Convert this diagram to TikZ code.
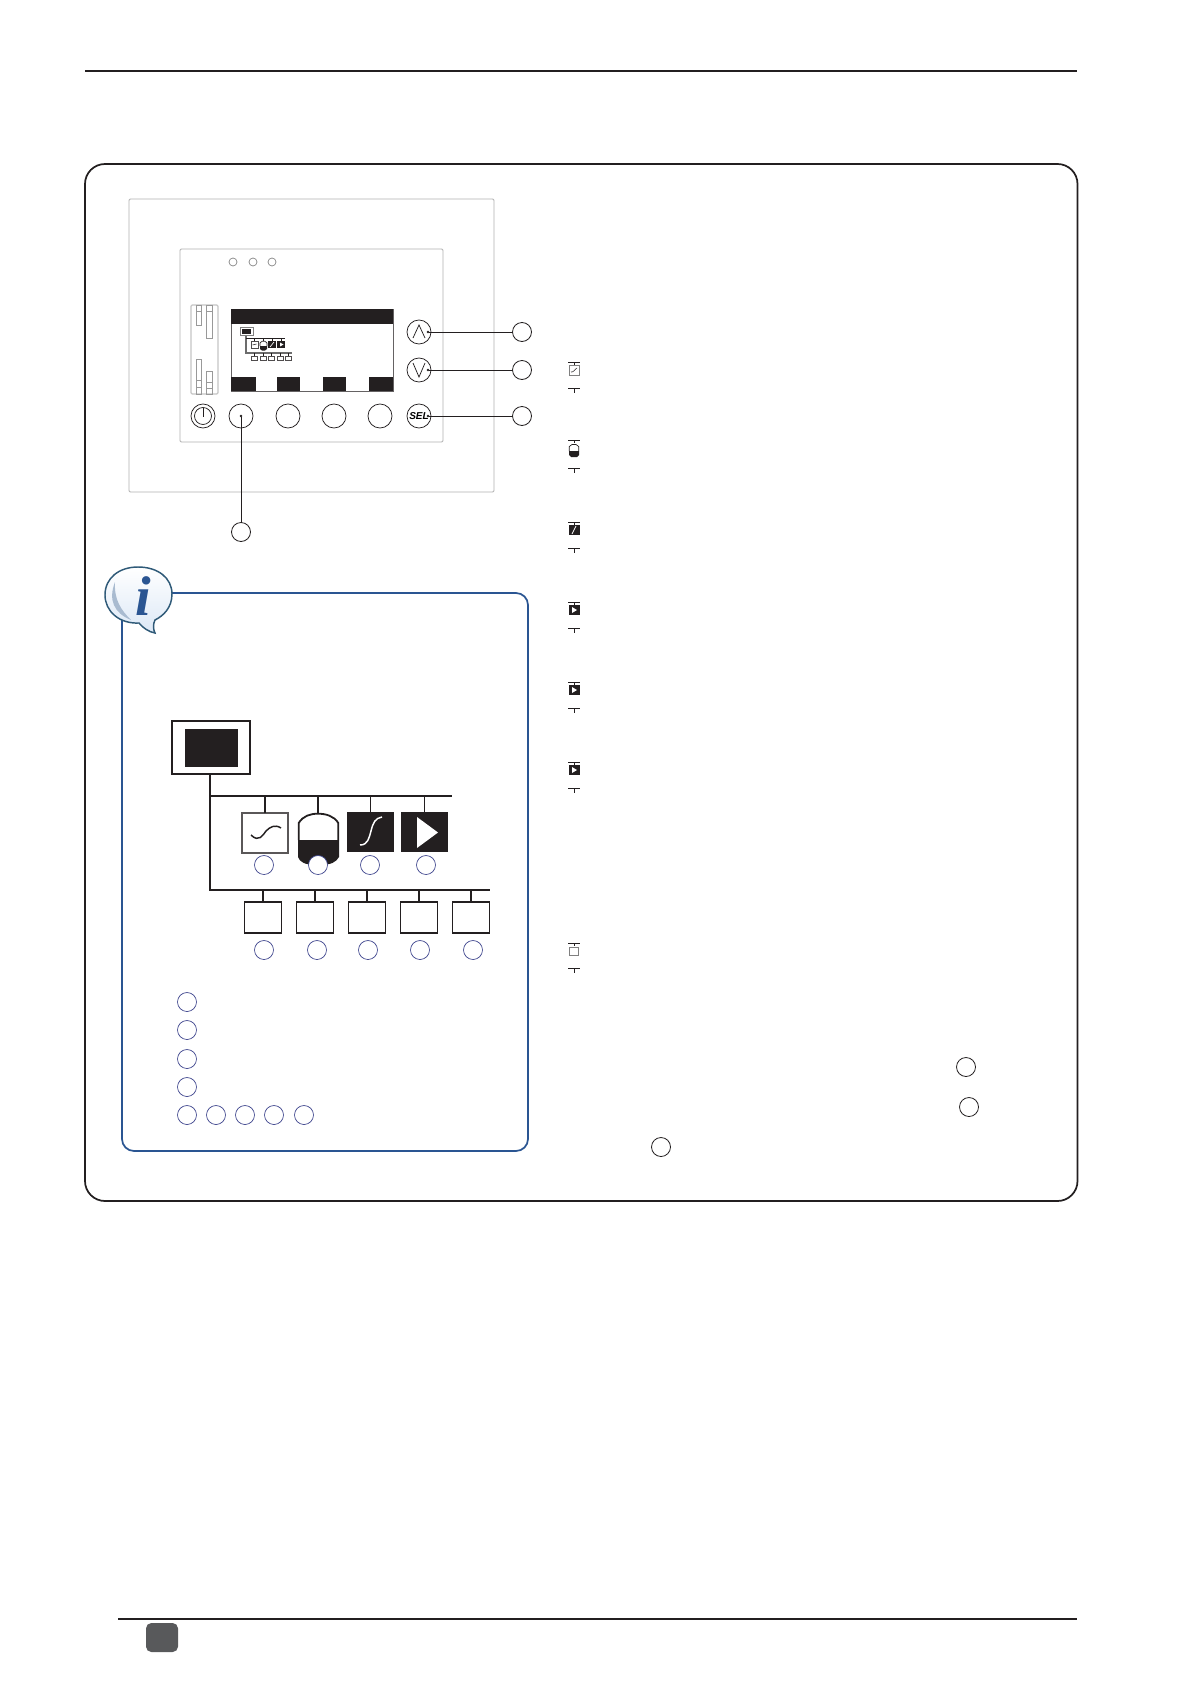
\documentclass[tikz,border=0pt]{standalone}
\usepackage{fontspec}
\setmainfont{Liberation Serif}
\setsansfont{Liberation Sans}
\definecolor{ink}{HTML}{231F20}
\definecolor{panelgray}{HTML}{B0B0B0}
\definecolor{infoblue}{HTML}{2A5592}
\definecolor{navy}{HTML}{39408A}
\definecolor{footgray}{HTML}{58595B}
\definecolor{bubbleline}{HTML}{2F5A78}
\definecolor{bubblefill}{HTML}{DCE8F6}
\definecolor{bubbleedge}{HTML}{A9BBD0}
\tikzset{
  wh/.style 2 args={minimum width=#1*0.75pt, minimum height=#2*0.75pt, inner sep=0pt, outer sep=0pt},
  pxcirc/.style={circle, inner sep=0pt, outer sep=0pt, minimum size=#1*0.75pt},
  panelbox/.style={draw=panelgray, line width=0.65pt, rounded corners=1pt, fill=white},
  solidblack/.style={fill=ink, draw=none},
  button/.style={pxcirc=24, draw=ink, line width=0.55pt, fill=white},
  callout/.style={pxcirc=19, draw=ink, line width=0.6pt, fill=white},
  bluecall/.style={pxcirc=19, draw=navy, line width=0.5pt, fill=white},
  leader/.style={draw=ink, line width=0.75pt},
  leddot/.style={pxcirc=8, draw=gray, line width=0.5pt},
  tip/.style={pxcirc=2.6, fill=ink},
  netline/.style={draw=ink, line width=1.35pt},
  netbox/.style={draw=ink, line width=1.35pt, fill=white},
  minigray/.style={draw=gray!85!black, line width=0.8pt},
  miniline/.style={draw=ink, line width=0.55pt},
  minibox/.style={draw=ink!80, line width=0.5pt, fill=white},
  tickline/.style={draw=ink, line width=0.55pt},
}
\begin{document}
\begin{tikzpicture}[x=0.75pt,y=-0.75pt]
\useasboundingbox (0,0) rectangle (1190,1684);
\fill[white] (0,0) rectangle (1190,1684);

% page rules and frame
\coordinate (topL) at (85,71); \coordinate (topR) at (1077,71);
\draw[draw=ink, line width=1.35pt] (topL) -- (topR);
\draw[draw=ink, line width=1.3pt, rounded corners=15pt] (85,164) rectangle (1077.5,1201);
\coordinate (footL) at (118,1619); \coordinate (footR) at (1077,1619);
\draw[draw=ink, line width=1.35pt] (footL) -- (footR);
\fill[footgray, rounded corners=4pt] (146,1623) rectangle (178,1652);

% control panel
\draw[panelbox] (129,199) rectangle (494,492);
\draw[panelbox] (180,249) rectangle (443,442);
\node[leddot] (led1) at (233,262) {};
\node[leddot] (led2) at (253,262) {};
\node[leddot] (led3) at (272,262) {};

% slider strip
\draw[draw=gray!45, line width=0.9pt, rounded corners=1pt] (191,305) rectangle (218,394);
\begin{scope}[draw=gray!80, line width=0.55pt]
  \draw (196,305) rectangle (201,325); \draw (196,311) -- (201,311);
  \draw (206,305) rectangle (212,338); \draw (206,311) -- (212,311);
  \draw (196,359) rectangle (201,394); \draw (196,380) -- (201,380); \draw (196,387) -- (201,387);
  \draw (206,371) rectangle (212,394); \draw (206,382) -- (212,382); \draw (206,388) -- (212,388);
\end{scope}

% display
\draw[draw=ink!70, line width=0.4pt, fill=white] (231,309) rectangle (393,391);
\fill[ink] (231,309) rectangle (393,324);
\fill[ink] (231,377) rectangle (256,391);
\fill[ink] (277,377) rectangle (300,391);
\fill[ink] (323,377) rectangle (346,391);
\fill[ink] (369,377) rectangle (393,391);
% mini network on the display
\draw[minigray] (246,335) -- (246,353) -- (292,353);
\draw[miniline] (246,338) -- (285,338);
\draw[miniline] (254,338) -- (254,341) (263,338) -- (263,341) (272,338) -- (272,341) (281,338) -- (281,341);
\draw[draw=gray, line width=0.7pt, fill=white] (240,327) rectangle (253,335);
\fill[ink] (242,328.5) rectangle (251,333.5);
\draw[minibox] (251,341) rectangle (258,348);
\draw[ink, line width=0.4pt] (252.5,345) .. controls (254,343) and (255,346) .. (256.5,344);
\fill[ink] (260,346) -- (267,346) -- (267,349) -- (265,350.5) -- (262,350.5) -- (260,349) -- cycle;
\draw[ink, line width=0.5pt] (260,346) -- (260,343) -- (262,341.3) -- (265,341.3) -- (267,343) -- (267,346);
\fill[ink] (268,341) rectangle (276,348);
\draw[white, line width=0.5pt] (270,347) -- (274,342);
\fill[ink] (277,341) rectangle (285,348);
\fill[white] (280,342.5) -- (283.5,344.5) -- (280,346.5) -- cycle;
\foreach \mx in {254,263,271,280,288} {
  \draw[miniline] (\mx,353) -- (\mx,356);
  \draw[minibox] ({\mx-3},356) rectangle ({\mx+3},360);
}

% buttons
\node[button] (power) at (203,416) {};
\node[pxcirc=17, draw=ink, line width=0.55pt] (powerin) at (203,416) {};
\coordinate (powerT) at (203,408); \coordinate (powerB) at (203,417);
\draw[draw=ink, line width=0.55pt] (powerT) -- (powerB);
\node[button] (soft1) at (241,416) {};
\node[button] (soft2) at (288,416) {};
\node[button] (soft3) at (334,416) {};
\node[button] (soft4) at (380,416) {};
\node[button, font=\sffamily\bfseries\itshape\fontsize{7.5}{8}\selectfont] (sel) at (419,416) {SEL};
\node[button] (up) at (419,332) {};
\node[button] (down) at (419,370) {};
\draw[draw=ink, line width=0.55pt] (413,338) -- (419,325) -- (425,338);
\draw[draw=ink, line width=0.55pt] (413,363) -- (419,377) -- (425,363);

% callouts
\node[callout] (cUp) at (522,332) {};
\node[callout] (cDown) at (522,370) {};
\node[callout] (cSel) at (522,416) {};
\node[callout] (cSoft) at (241,532) {};
\node[tip] (tUp) at (428,332) {};
\node[tip] (tDown) at (428,370) {};
\node[tip] (tSel) at (428,416) {};
\node[tip] (tSoft) at (241,416) {};
\draw[leader] (tUp) -- (cUp);
\draw[leader] (tDown) -- (cDown);
\draw[leader] (tSel) -- (cSel);
\draw[leader] (tSoft) -- (cSoft);

% information box
\draw[draw=infoblue, line width=1.3pt, rounded corners=9pt] (122,593) rectangle (528,1151);
\shade[top color=white, bottom color=bubblefill, draw=bubbleline, line width=1.1pt]
  (138,567) .. controls (158,567) and (172,578) .. (172,594)
  .. controls (172,608) and (163,616) .. (155,620)
  .. controls (153,624) and (153,629) .. (155,633)
  .. controls (149,632) and (143,628) .. (139,623)
  .. controls (119,624) and (105,611) .. (105,595)
  .. controls (105,578) and (119,567) .. (138,567) -- cycle;
\fill[bubbleedge] (115,582) .. controls (108,600) and (114,613) .. (131,620)
  .. controls (121,610) and (114,600) .. (115,582) -- cycle;
\node[text=infoblue, font=\fontsize{42}{42}\selectfont\bfseries\itshape, inner sep=0pt] (infoi) at (143,596) {i};

% network diagram
\node[netbox, wh={78}{53}] (mon) at (211,747.5) {};
\node[solidblack, wh={53}{38}] (monin) at (211.5,748) {};
\coordinate (monfoot) at (210,774);
\coordinate (junction) at (210,890);
\coordinate (busAstart) at (210,796);
\coordinate (busAend) at (452,796);
\coordinate (busBend) at (490,890);
\draw[netline] (monfoot) -- (junction) -- (busBend);
\draw[netline] (busAstart) -- (busAend);

\node[draw=ink!75, line width=1.35pt, fill=white, wh={46}{40}] (sym1) at (265,833) {};
\draw[draw=ink, line width=1.1pt] (251,835) .. controls (259,843) and (263,835) .. (266,831) .. controls (270,827) and (275,824) .. (281,828);
\fill[ink] (298,840) -- (339,840) -- (339,857) .. controls (336,862) and (332,865) .. (318,865)
  .. controls (304,865) and (300,862) .. (298,857) -- cycle;
\draw[draw=ink, line width=1.35pt] (298.7,840) -- (298.7,823) .. controls (303,816) and (310,813.7) .. (318,813.7)
  .. controls (326,813.7) and (334,816) .. (338.3,823) -- (338.3,840);
\coordinate (sym2) at (318,813);
\node[solidblack, wh={47}{40}] (sym3) at (370.5,832) {};
\draw[draw=white, line width=1.1pt] (360,845) .. controls (368,845) and (369,838) .. (371,831) .. controls (373,823) and (375,818) .. (382,817);
\node[solidblack, wh={47}{40}] (sym4) at (424.5,832) {};
\fill[white] (417,817) -- (438,832.5) -- (417,848) -- cycle;
\draw[netline] (sym1.north) -- (sym1.north |- busAend);
\draw[netline] (sym2) -- (sym2 |- busAend);
\draw[netline] (sym3.north) -- (sym3.north |- busAend);
\draw[netline] (sym4.north) -- (sym4.north |- busAend);
\node[bluecall] (n1) at (264,865) {};
\node[bluecall] (n2) at (318,865) {};
\node[bluecall] (n3) at (370,865) {};
\node[bluecall] (n4) at (426,865) {};

\foreach \nm/\bx/\cx in {a/263/264, b/315/317, c/367/368, d/419/420, e/471/473} {
  \node[netbox, wh={37}{31}] (box\nm) at (\bx,917.5) {};
  \draw[netline] (box\nm.north) -- (box\nm.north |- busBend);
  \node[bluecall] (m\nm) at (\cx,950) {};
}

% legend circles
\node[bluecall] (l1) at (187,1002) {};
\node[bluecall] (l2) at (187,1030) {};
\node[bluecall] (l3) at (187,1059) {};
\node[bluecall] (l4) at (187,1087) {};
\node[bluecall] (l5) at (187,1115) {};
\node[bluecall] (l6) at (216,1115) {};
\node[bluecall] (l7) at (245,1115) {};
\node[bluecall] (l8) at (274,1115) {};
\node[bluecall] (l9) at (304,1115) {};

% right-hand icons
\foreach \ty in {362,440,522,602,682,762,943} {
  \draw[tickline] (568,\ty) -- (580,\ty) (574,\ty) -- (574,{\ty+3});
}
\foreach \ty in {388,468,548,628,708,788,968} {
  \draw[tickline] (568,\ty) -- (580,\ty) (574,\ty) -- (574,{\ty+5});
}
\draw[draw=gray, line width=0.6pt, fill=white] (569,365) rectangle (579,375);
\draw[ink, line width=0.4pt] (571,372) .. controls (573,373) and (575,369) .. (577,368);
\fill[ink] (569,451) -- (579,451) -- (579,455) -- (577,457) -- (571,457) -- (569,455) -- cycle;
\draw[draw=ink, line width=0.5pt] (569.3,451) -- (569.3,446.5) -- (572,444.5) -- (576,444.5) -- (578.7,446.5) -- (578.7,451);
\fill[ink] (568.5,525) rectangle (579.5,535);
\draw[white, line width=0.6pt] (572,534) -- (576,526);
\foreach \iy in {605,685,765} {
  \fill[ink] (568.5,\iy) rectangle (579.5,{\iy+10});
  \fill[white] (572,{\iy+2}) -- (577,{\iy+5}) -- (572,{\iy+8}) -- cycle;
}
\draw[draw=gray, line width=0.7pt, fill=white] (569.5,947) rectangle (578.5,955);

% text-side circles
\node[callout] (r1) at (966,1067) {};
\node[callout] (r2) at (969,1107) {};
\node[callout] (r3) at (661,1147) {};
\end{tikzpicture}
\end{document}
